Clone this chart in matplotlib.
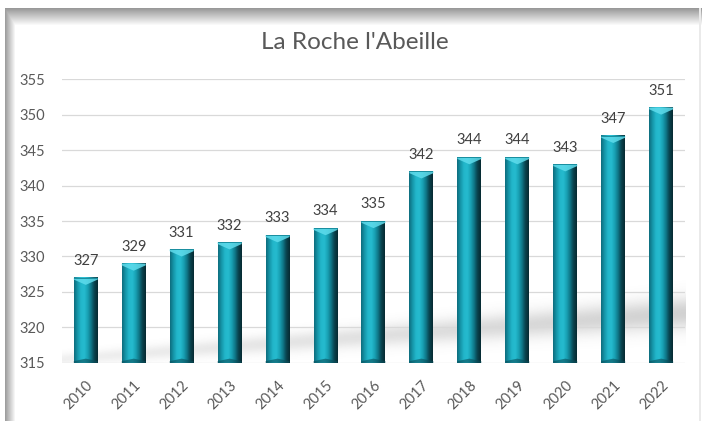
import numpy as np
import matplotlib
matplotlib.use("Agg")
import matplotlib.pyplot as plt
from matplotlib.colors import LinearSegmentedColormap
from matplotlib.patches import Polygon

plt.rcParams["font.family"] = ["Lato", "DejaVu Sans"]

# ─── DATA ────────────────────────────────────────────
years = ["2010", "2011", "2012", "2013", "2014", "2015", "2016",
         "2017", "2018", "2019", "2020", "2021", "2022"]
population = [327, 329, 331, 332, 333, 334, 335, 342, 344, 344, 343, 347, 351]
title = "La Roche l'Abeille"
y_min, y_max, y_step = 315, 355, 5

TEXT = "#595959"
LABEL = "#404040"
GRID = "#d9d9d9"
bar_cmap = LinearSegmentedColormap.from_list(
    "cyl", ["#0e6d7e", "#1596a9", "#22b6ca", "#25bbcf", "#19a2b5", "#0f7788", "#09434e", "#062a31"])

fig = plt.figure(figsize=(7.02, 4.21), dpi=100)

# frame with soft grey edge on top / left
H, W = 421, 702
rows = np.arange(H)[:, None]
cols = np.arange(W)[None, :]
top = np.clip((rows - 8) / 17.0, 0, 1)
left = np.clip((cols - 5) / 10.0, 0, 1)
edge = np.minimum(0.6 + 0.4 * top, 0.62 + 0.38 * left)
inside = (rows >= 8) & (cols >= 5)
bg = np.where(inside, edge, 1.0)
bg[:, 699:701] = np.where(rows[:, 0:1] >= 8, 0.92, 1.0)
bax = fig.add_axes([0, 0, 1, 1], zorder=-1)
bax.imshow(np.dstack([bg] * 3), aspect="auto", interpolation="bilinear")
bax.axis("off")

ax = fig.add_axes([0.088, 0.138, 0.888, 0.674])
ax.set_facecolor("none")
x = np.arange(len(years))
vals = np.array(population)

# floor shadow behind the bars (diagonal, fading to the left)
sx = np.linspace(-0.5, len(years) - 0.5, 400)
sy = np.linspace(y_min, y_min + 12, 240)
SX, SY = np.meshgrid(sx, sy)
frac = (SX + 0.5) / len(years)
centre = y_min + 0.5 + frac * 6.5
sig = 0.8 + frac * 1.4
shade = np.exp(-((SY - centre) / sig) ** 2) * (0.1 + 0.2 * frac)
shadow = np.zeros(SX.shape + (4,))
shadow[..., :3] = 0.4
shadow[..., 3] = shade
ax.imshow(shadow, extent=[sx[0], sx[-1], sy[0], sy[-1]], origin="lower",
          aspect="auto", zorder=0.5, interpolation="bilinear")

ax.set_yticks(np.arange(y_min, y_max + 1, y_step))
ax.grid(axis="y", color=GRID, lw=0.9)
ax.set_axisbelow(True)

bars = ax.bar(x, vals - y_min, bottom=y_min, width=0.5, color="none", zorder=2)
grad = bar_cmap(np.linspace(0, 1, 64))[None, :, :]
for b in bars:
    x0, w = b.get_x(), b.get_width()
    b0, h = b.get_y(), b.get_height()
    ax.imshow(grad, extent=[x0, x0 + w, b0, b0 + h], aspect="auto",
              zorder=2, interpolation="bilinear")
    xc, x1, t = x0 + w / 2, x0 + w, b0 + h
    ax.add_patch(Polygon([(x0, t), (x1, t), (x1, t - 0.25), (xc, t - 1.0), (x0, t - 0.25)],
                         closed=True, fc="#5fdcec", ec="none", alpha=0.85, zorder=3))
    ax.add_patch(Polygon([(x0, t), (x1, t), (x1, t - 0.12), (x0, t - 0.12)],
                         closed=True, fc="#1a8fa0", ec="none", zorder=3))
    ax.add_patch(Polygon([(x0, b0), (x1, b0), (x1, b0 + 0.25), (xc, b0 + 0.6), (x0, b0 + 0.25)],
                         closed=True, fc="#0a4e5a", ec="none", alpha=0.6, zorder=3))
    ax.annotate(f"{int(t)}", (xc, t), xytext=(0, 7), textcoords="offset points",
                ha="center", va="bottom", fontsize=10.5, color=LABEL)

ax.set_xlim(-0.5, len(years) - 0.5)
ax.set_ylim(y_min, y_max)
for s in ax.spines.values():
    s.set_visible(False)
ax.tick_params(length=0, labelsize=10.5, colors=TEXT)
ax.tick_params(axis="y", pad=12)
ax.set_xticks(x)
ax.set_xticklabels(years, rotation=45, ha="right", rotation_mode="anchor")
ax.tick_params(axis="x", pad=11)

fig.text(0.505, 0.898, title, ha="center", va="center", fontsize=17.5, color=TEXT)

fig.savefig("out.png", dpi=100)
